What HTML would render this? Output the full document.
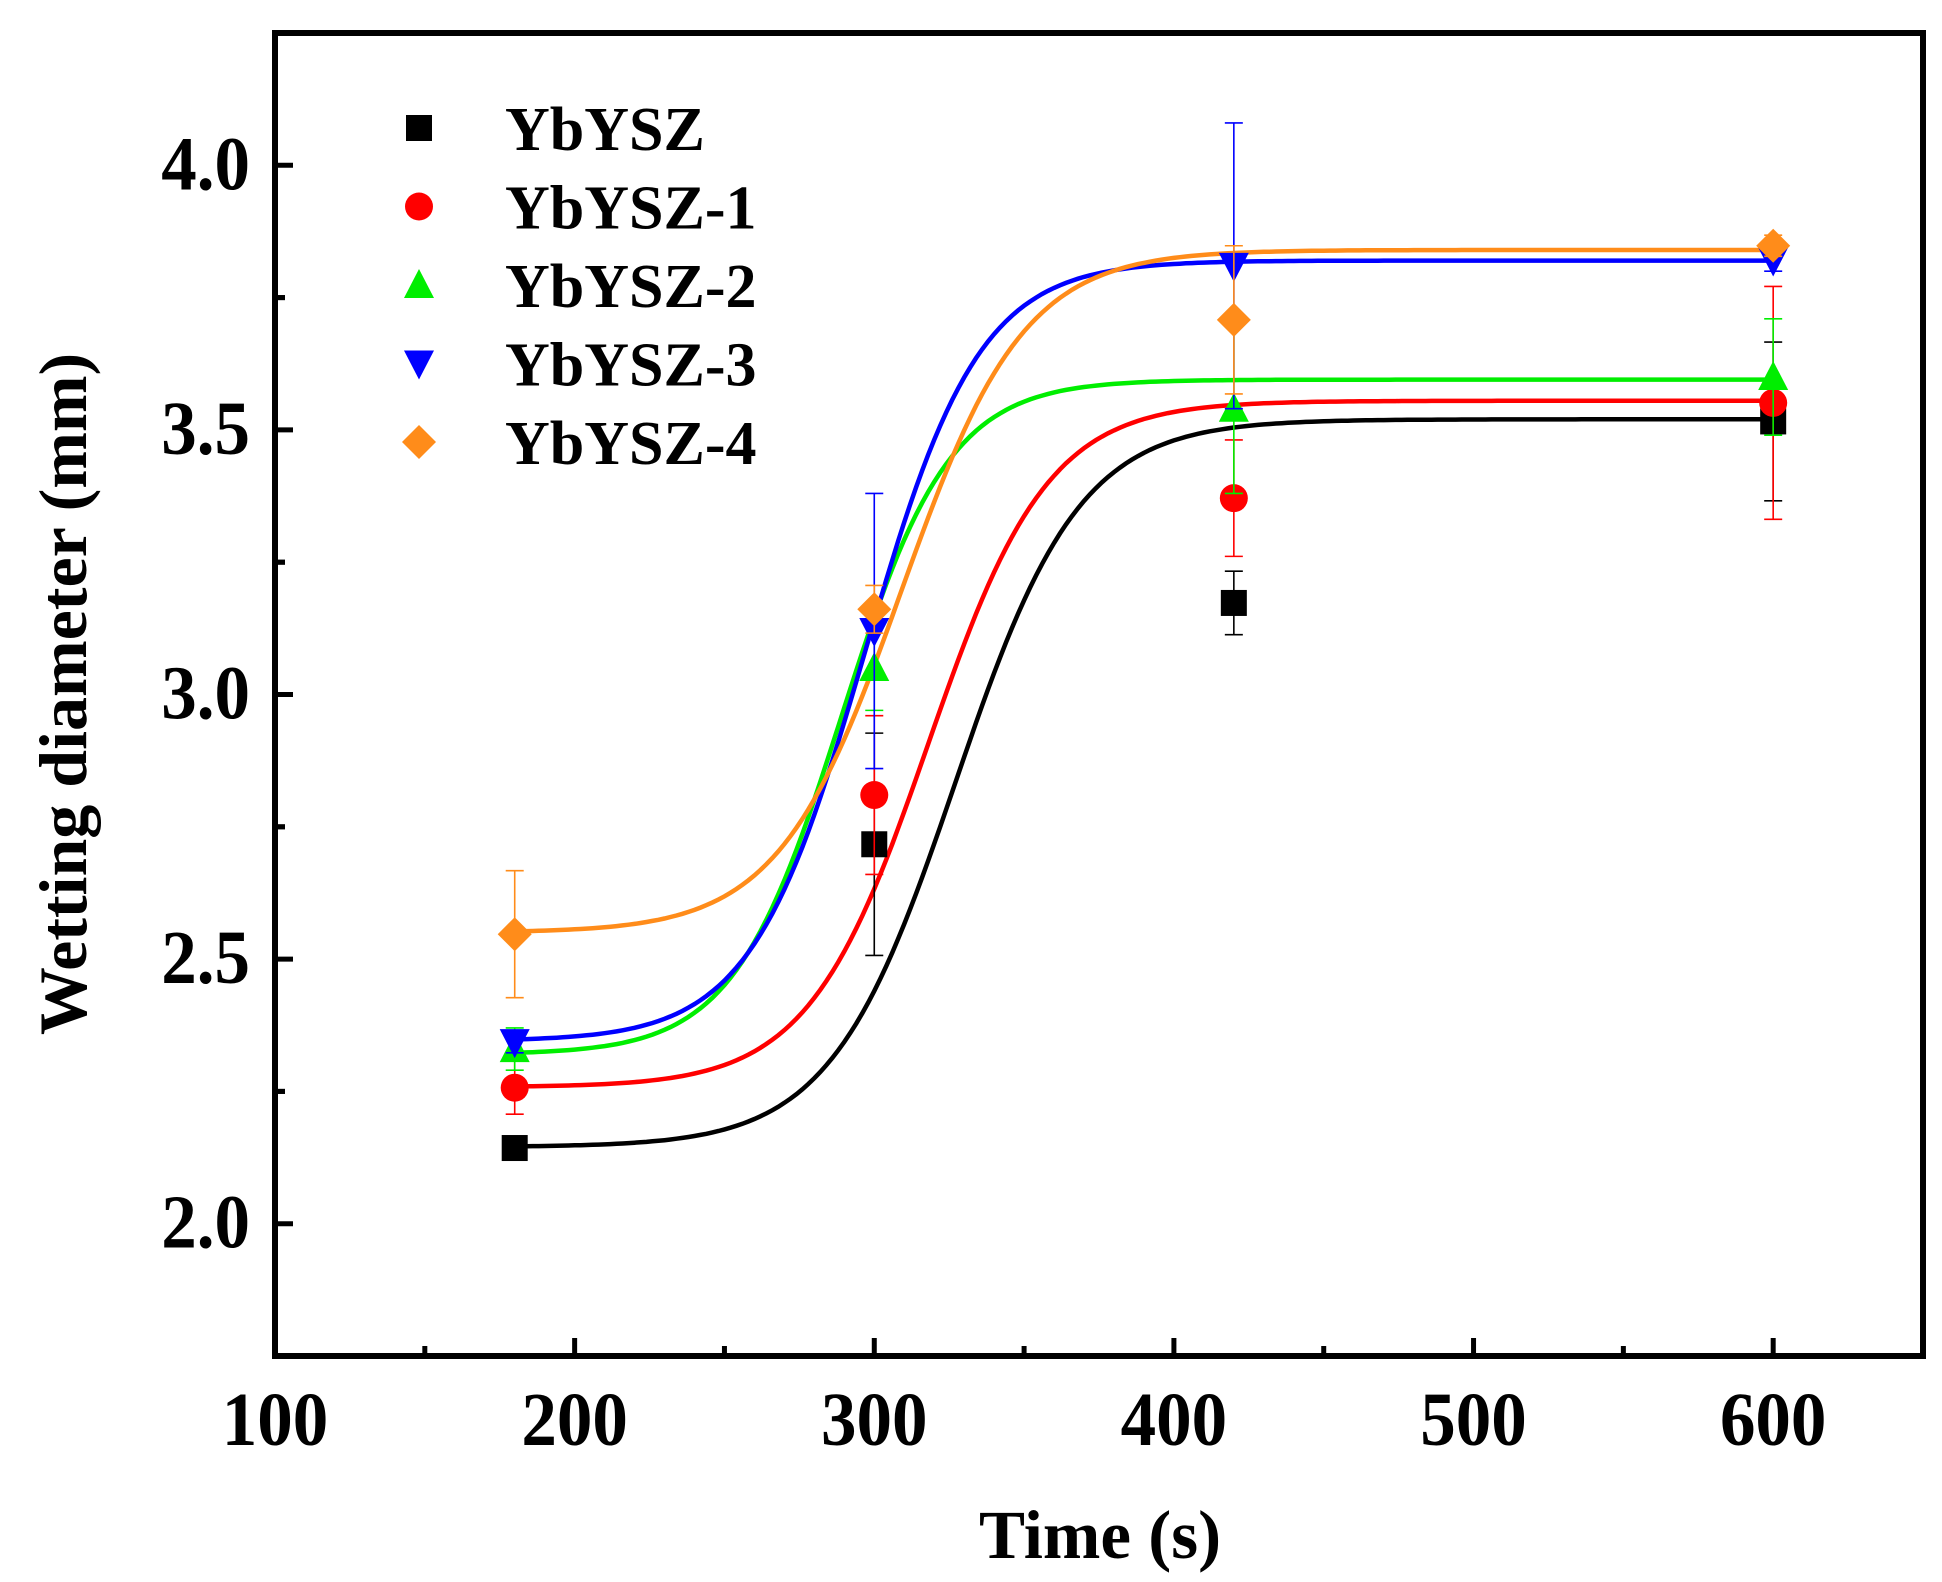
<!DOCTYPE html>
<html><head><meta charset="utf-8"><style>
html,body{margin:0;padding:0;background:#fff;}
svg{display:block;font-family:"Liberation Serif","Times New Roman",serif;font-weight:bold;}
</style></head><body>
<svg id="chart" width="1942" height="1582" viewBox="0 0 1942 1582" xmlns="http://www.w3.org/2000/svg">
<rect x="0" y="0" width="1942" height="1582" fill="#fff"/>
<g id="plot"></g>
<text x="1100" y="1558" font-size="69" text-anchor="middle">Time (s)</text>
<text transform="translate(86,694) rotate(-90)" font-size="68" text-anchor="middle">Wetting diameter (mm)</text>
</svg>
<script>
const seriesNames=["YbYSZ","YbYSZ-1","YbYSZ-2","YbYSZ-3","YbYSZ-4"];
const timesX=[180,300,420,600];
const valBlack=[2.143,2.717,3.173,3.516];
const errBlack=[0.02,0.21,0.06,0.15];
const valRed=[2.257,2.81,3.371,3.551];
const errRed=[0.05,0.15,0.11,0.22];
const valGreen=[2.33,3.05,3.54,3.6];
const errGreen=[0.04,0.08,0.16,0.11];
const valBlue=[2.343,3.12,3.81,3.82];
const errBlue=[0.02,0.26,0.27,0.02];
const valOrange=[2.547,3.161,3.708,3.848];
const errOrange=[0.12,0.045,0.14,0.02];
// Boltzmann fit params: A1, A2, x0, dx
const fitBlack=[2.145,3.52,327,20.8];
const fitRed=[2.258,3.555,318,20];
const fitGreen=[2.32,3.595,289,18];
const fitBlue=[2.345,3.82,297,19];
const fitOrange=[2.55,3.84,309,20.5];
const xTicks=[100,200,300,400,500,600];
const yTicks=["2.0","2.5","3.0","3.5","4.0"];

const NS="http://www.w3.org/2000/svg";
const L=275,R=1923,T=33,B=1356;
const xMin=100,xMax=650,yMin=1.75,yMax=4.25;
function sx(v){return L+(v-xMin)/(xMax-xMin)*(R-L);}
function sy(v){return B-(v-yMin)/(yMax-yMin)*(B-T);}
const plot=document.getElementById('plot');
function mk(tag,attrs,parent){const e=document.createElementNS(NS,tag);for(const k in attrs)e.setAttribute(k,attrs[k]);(parent||plot).appendChild(e);return e;}

const colors=["#000000","#ff0000","#00ee00","#0000ff","#ff8c1a"];
const vals=[valBlack,valRed,valGreen,valBlue,valOrange];
const errs=[errBlack,errRed,errGreen,errBlue,errOrange];
const fits=[fitBlack,fitRed,fitGreen,fitBlue,fitOrange];
const shapes=["square","circle","up","down","diamond"];

function marker(shape,cx,cy,c,parent){
  const s=13;let e;
  if(shape==="square")e=mk('rect',{x:cx-s,y:cy-s,width:2*s,height:2*s,fill:c},parent);
  else if(shape==="circle")e=mk('circle',{cx:cx,cy:cy,r:s+1,fill:c},parent);
  else if(shape==="up")e=mk('polygon',{points:`${cx},${cy-s-3} ${cx-s-2},${cy+s} ${cx+s+2},${cy+s}`,fill:c},parent);
  else if(shape==="down")e=mk('polygon',{points:`${cx},${cy+s+3} ${cx-s-2},${cy-s} ${cx+s+2},${cy-s}`,fill:c},parent);
  else e=mk('polygon',{points:`${cx},${cy-s-4} ${cx+s+4},${cy} ${cx},${cy+s+4} ${cx-s-4},${cy}`,fill:c},parent);
  return e;
}

fits.forEach((f,i)=>{
  let d="";
  for(let x=180;x<=600;x+=2){
    const y=f[1]+(f[0]-f[1])/(1+Math.exp((x-f[2])/f[3]));
    d+=(x===180?"M":"L")+sx(x).toFixed(1)+","+sy(y).toFixed(1);
  }
  const p=mk('path',{d:d,fill:"none",stroke:colors[i],"stroke-width":4.5});
  
  
});
vals.forEach((arr,i)=>{
  const g=mk('g',{});
  
  
  arr.forEach((v,j)=>{
    const cx=sx(timesX[j]),e=errs[i][j];
    const y1=sy(v+e),y2=sy(v-e);
    mk('line',{x1:cx,x2:cx,y1:y1,y2:y2,stroke:colors[i],"stroke-width":1.6},g);
    mk('line',{x1:cx-9,x2:cx+9,y1:y1,y2:y1,stroke:colors[i],"stroke-width":1.6},g);
    mk('line',{x1:cx-9,x2:cx+9,y1:y2,y2:y2,stroke:colors[i],"stroke-width":1.6},g);
    const m=marker(shapes[i],cx,sy(v),colors[i],g);
    
    
  });
});
const fr=mk('rect',{x:L,y:T,width:R-L,height:B-T,fill:"none",stroke:"#000","stroke-width":6});


xTicks.forEach(v=>{
  const x=sx(v);
  mk('line',{x1:x,x2:x,y1:B,y2:B-18,stroke:"#000","stroke-width":5});
  const t=mk('text',{transform:`translate(${x},1445) scale(1,1.08)`,"font-size":71,"text-anchor":"middle"});
  t.textContent=v;
  
  
  if(v+50<xMax){const xm=sx(v+50);mk('line',{x1:xm,x2:xm,y1:B,y2:B-10,stroke:"#000","stroke-width":5});}
});
yTicks.forEach(s=>{
  const v=parseFloat(s),y=sy(v);
  mk('line',{x1:L,x2:L+18,y1:y,y2:y,stroke:"#000","stroke-width":5});
  const t=mk('text',{transform:`translate(250,${y+24}) scale(1,1.08)`,"font-size":71,"text-anchor":"end"});
  t.textContent=s;
  
  
  [v-0.25,v+0.25].forEach(m=>{if(m>yMin&&m<yMax&&(m*4)%2!==0){const ym=sy(m);mk('line',{x1:L,x2:L+10,y1:ym,y2:ym,stroke:"#000","stroke-width":5});}});
});
const lg=mk('g',{});


seriesNames.forEach((n,i)=>{
  const y=128+i*78.5;
  const g=mk('g',{},lg);
  
  
  marker(shapes[i],419,y,colors[i],g);
  const t=mk('text',{x:505,y:y+22,"font-size":62},g);
  t.textContent=n;
});
</script>
</body></html>
